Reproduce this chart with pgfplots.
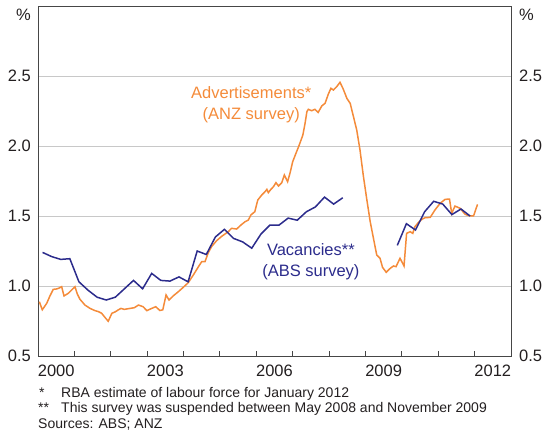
\documentclass[border=0pt]{standalone}
\usepackage{pgfplots}
\pgfplotsset{compat=1.18}
\usepackage{fontspec}
\setmainfont{Liberation Sans}
\definecolor{adorange}{RGB}{244,139,58}
\definecolor{vacblue}{RGB}{44,44,140}
\definecolor{gridgray}{RGB}{200,200,200}
\definecolor{axgray}{RGB}{70,70,70}
\definecolor{txt}{RGB}{35,31,32}
\newcommand\tickfont{\fontsize{16.5bp}{19bp}\selectfont}
\newcommand\notefont{\fontsize{14bp}{16bp}\selectfont}
\begin{document}
\begin{tikzpicture}
\useasboundingbox (-38bp,-79bp) rectangle (505bp,356bp);
\begin{axis}[
  at={(0,0)}, anchor=south west,
  width=473bp, height=350bp, scale only axis,
  xmin=2000, xmax=2013, ymin=0.5, ymax=3,
  axis line style={axgray, line width=0.9bp},
  xtick={2000.5,2003.5,2006.5,2009.5,2012.5},
  xticklabels={2000,2003,2006,2009,2012},
  major x tick style={draw=none},
  minor xtick={2001,2002,...,2012},
  minor x tick style={axgray, line width=0.9bp},
  minor tick length=5bp,
  tick align=inside,
  xtick pos=bottom,
  ytick={0.5,1,1.5,2,2.5},
  ytick style={draw=none},
  yticklabel pos=left,
  ymajorgrids,
  grid style={gridgray, line width=0.9bp},
  /pgf/number format/assume math mode=true,
  yticklabel={\pgfmathprintnumber[fixed,fixed zerofill,precision=1]{\tick}},
  ticklabel style={font=\tickfont, text=txt},
  yticklabel style={inner sep=0pt, xshift=-7bp},
  xticklabel style={inner sep=0pt, anchor=north, yshift=-9bp},
]
\addplot[adorange, line width=1.5bp] coordinates {
(2000.036,0.888) (2000.118,0.830) (2000.239,0.876) (2000.33,0.930) (2000.42,0.976)
(2000.514,0.979) (2000.577,0.985) (2000.651,0.995) (2000.715,0.929) (2000.833,0.948)
(2000.92,0.970) (2001.017,0.995) (2001.08,0.943) (2001.154,0.905) (2001.29,0.864)
(2001.43,0.840) (2001.567,0.824) (2001.66,0.817) (2001.75,0.805) (2001.84,0.776)
(2001.93,0.748) (2002.03,0.805) (2002.12,0.815) (2002.21,0.830) (2002.28,0.840)
(2002.37,0.833) (2002.53,0.840) (2002.65,0.845) (2002.76,0.864) (2002.89,0.852)
(2002.99,0.824) (2003.125,0.840) (2003.235,0.852) (2003.35,0.825) (2003.43,0.830)
(2003.52,0.936) (2003.60,0.900) (2003.72,0.930) (2003.86,0.960) (2003.99,0.990)
(2004.13,1.024) (2004.27,1.079) (2004.41,1.138) (2004.50,1.174) (2004.59,1.174)
(2004.68,1.238) (2004.77,1.281) (2004.91,1.324) (2005.05,1.355) (2005.23,1.388)
(2005.32,1.412) (2005.46,1.407) (2005.58,1.436) (2005.69,1.459) (2005.78,1.471)
(2005.85,1.507) (2005.96,1.531) (2006.04,1.614) (2006.15,1.650) (2006.24,1.674)
(2006.29,1.690) (2006.33,1.667) (2006.40,1.690) (2006.47,1.709) (2006.54,1.738)
(2006.61,1.714) (2006.70,1.738) (2006.77,1.793) (2006.86,1.745) (2006.93,1.810)
(2007.00,1.888) (2007.09,1.948) (2007.18,2.007) (2007.28,2.079) (2007.34,2.162)
(2007.39,2.245) (2007.43,2.262) (2007.52,2.252) (2007.61,2.262) (2007.70,2.240)
(2007.80,2.286) (2007.89,2.305) (2007.98,2.371) (2008.05,2.412) (2008.12,2.400)
(2008.21,2.424) (2008.30,2.455) (2008.38,2.412) (2008.49,2.340) (2008.58,2.305)
(2008.67,2.210) (2008.76,2.114) (2008.85,1.971) (2008.94,1.790) (2009.03,1.630)
(2009.13,1.460) (2009.22,1.340) (2009.31,1.221) (2009.40,1.198) (2009.47,1.133)
(2009.57,1.098) (2009.68,1.126) (2009.77,1.143) (2009.84,1.138) (2009.95,1.198)
(2010.06,1.143) (2010.13,1.376) (2010.23,1.388) (2010.30,1.376) (2010.36,1.424)
(2010.45,1.452) (2010.55,1.476) (2010.64,1.488) (2010.78,1.490) (2010.91,1.543)
(2011.05,1.590) (2011.19,1.619) (2011.31,1.621) (2011.37,1.519) (2011.46,1.571)
(2011.60,1.555) (2011.74,1.512) (2011.87,1.500) (2011.97,1.500) (2012.08,1.583)
};
\addplot[vacblue, line width=1.5bp] coordinates {
(2000.125,1.24) (2000.375,1.21) (2000.625,1.19) (2000.875,1.195) (2001.125,1.03)
(2001.375,0.97) (2001.625,0.92) (2001.875,0.90) (2002.125,0.92) (2002.375,0.98)
(2002.625,1.04) (2002.875,0.98) (2003.125,1.09) (2003.375,1.04) (2003.625,1.035)
(2003.875,1.065) (2004.125,1.03) (2004.375,1.25) (2004.625,1.225) (2004.875,1.35)
(2005.125,1.405) (2005.375,1.34) (2005.625,1.315) (2005.875,1.27) (2006.125,1.37)
(2006.375,1.435) (2006.625,1.435) (2006.875,1.485) (2007.125,1.47) (2007.375,1.53)
(2007.625,1.565) (2007.875,1.635) (2008.125,1.585) (2008.375,1.63)
};
\addplot[vacblue, line width=1.5bp] coordinates {
(2009.875,1.29) (2010.125,1.445) (2010.375,1.40) (2010.625,1.53) (2010.875,1.605)
(2011.125,1.585) (2011.375,1.51) (2011.625,1.55) (2011.875,1.50)
};
\node[adorange, align=center, font=\tickfont, inner sep=0pt] at (axis cs:2005.86,2.293)
  {Advertisements*\\[1.5bp](ANZ survey)};
\node[vacblue, align=center, font=\tickfont, inner sep=0pt] at (axis cs:2007.5,1.175)
  {Vacancies**\\[1.5bp](ABS survey)};
\end{axis}
\begin{axis}[
  at={(0,0)}, anchor=south west,
  width=473bp, height=350bp, scale only axis,
  xmin=2000, xmax=2013, ymin=0.5, ymax=3,
  hide x axis,
  axis y line*=right,
  axis line style={axgray, line width=0.9bp},
  ytick={0.5,1,1.5,2,2.5},
  ytick style={draw=none},
  /pgf/number format/assume math mode=true,
  yticklabel={\pgfmathprintnumber[fixed,fixed zerofill,precision=1]{\tick}},
  yticklabel style={font=\tickfont, text=txt, inner sep=0pt, xshift=8bp},
]
\end{axis}
\node[anchor=east, inner sep=0pt, font=\tickfont, text=txt] at (-7bp,341bp) {\%};
\node[anchor=west, inner sep=0pt, font=\tickfont, text=txt] at (481bp,341bp) {\%};
\begin{scope}[every node/.style={anchor=base west, inner sep=0pt, font=\notefont, text=txt}]
\node at (1bp,-41.3bp) {*};
\node at (23bp,-41.3bp) {RBA estimate of labour force for January 2012};
\node at (0bp,-56.7bp) {**};
\node at (23bp,-56.7bp) {This survey was suspended between May 2008 and November 2009};
\node at (0bp,-72.3bp) {Sources: ABS; ANZ};
\end{scope}
\end{tikzpicture}
\end{document}
